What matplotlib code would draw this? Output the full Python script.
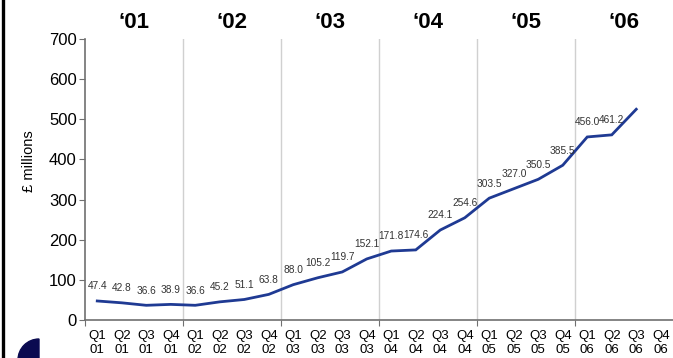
import matplotlib
matplotlib.use("Agg")
import matplotlib.pyplot as plt
from matplotlib.patches import Wedge
from matplotlib.lines import Line2D

plt.rcParams["font.family"] = ["Liberation Sans", "DejaVu Sans"]

# quarterly values, £ millions (Q4 06 has no value)
quarters = ["Q1", "Q2", "Q3", "Q4"]
years = ["01", "02", "03", "04", "05", "06"]
year_titles = ["\u201801", "\u201802", "\u201803", "\u201804", "\u201805", "\u201806"]
values = [47.4, 42.8, 36.6, 38.9, 36.6, 45.2, 51.1, 63.8,
          88.0, 105.2, 119.7, 152.1, 171.8, 174.6, 224.1, 254.6,
          303.5, 327.0, 350.5, 385.5, 456.0, 461.2, 525.0]
labelled = 22  # last point carries no data label

tick_labels = [f"{q}\n{y}" for y in years for q in quarters]
n = len(tick_labels)

W, H = 673, 358
fig = plt.figure(figsize=(W / 100, H / 100), dpi=100)
ax = fig.add_axes([85 / W, (H - 320) / H, (W - 85) / W, (320 - 39) / H])

line_color = "#1F3A93"
xs = list(range(len(values)))
ax.plot(xs, values, color=line_color, lw=2.0, solid_joinstyle="miter")

for x, v in zip(xs[:labelled], values[:labelled]):
    ax.annotate(f"{v:.1f}", (x, v), xytext=(0, 10.5), textcoords="offset points",
                ha="center", va="center", fontsize=7.3, color="#333333")

# year separators
for k in range(1, len(years)):
    ax.axvline(4 * k - 0.5, color="#d0d0d0", lw=1.0, zorder=0)

for k, t in enumerate(year_titles):
    ax.text(4 * k + 1.5, 1.06, t, transform=ax.get_xaxis_transform(),
            ha="center", va="center", fontsize=16, fontweight="bold")

ax.set_xlim(-0.5, n - 0.5)
ax.set_ylim(0, 700)
ax.set_yticks(range(0, 701, 100))
ax.set_xticks([4 * k - 0.5 for k in range(len(years))])
ax.set_xticklabels([])
ax.set_xticks(range(n), minor=True)
ax.set_xticklabels(tick_labels, minor=True, fontsize=9.5, linespacing=1.2)
ax.tick_params(axis="x", which="major", length=4, color="#707070", direction="out")
ax.tick_params(axis="x", which="minor", length=0, pad=7)
ax.tick_params(axis="y", length=4, color="#707070", labelsize=12, pad=2)

for s in ("top", "right"):
    ax.spines[s].set_visible(False)
for s in ("left", "bottom"):
    ax.spines[s].set_color("#707070")
    ax.spines[s].set_linewidth(1.2)

fig.text(29 / W, (H - 161) / H, "\u00a3 millions", rotation=90,
         ha="center", va="center", fontsize=10.5)

# slide frame edge and logo fragment
fig.add_artist(Line2D([2.5 / W, 2.5 / W], [0, 1], color="black", lw=2.4,
                      transform=fig.transFigure))
fig.add_artist(Wedge((39, -2), 21, 90, 270, color="#0a0a50",
                     transform=None))

fig.savefig("out.png", dpi=100)
